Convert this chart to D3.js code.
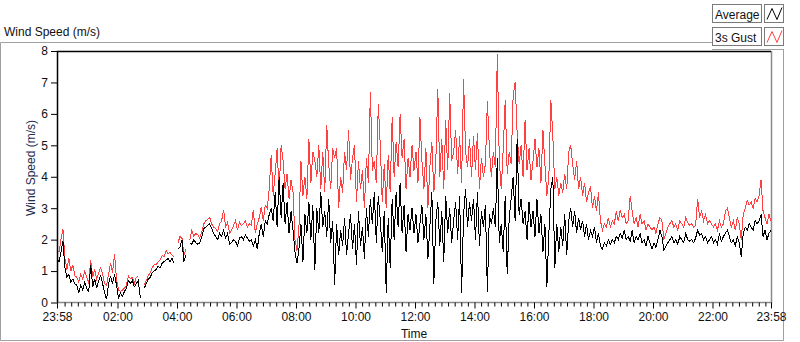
<!DOCTYPE html>
<html>
<head>
<meta charset="utf-8">
<script src="https://cdn.jsdelivr.net/npm/d3@7"></script>
<style>
  body { margin: 0; background: #fff; }
  svg text { font-family: "Liberation Sans", Arial, sans-serif; font-size: 12px; fill: #111; }
</style>
</head>
<body>
<svg id="chart" width="800" height="342"></svg>
<script>
// wind speed samples, one every 4 minutes from 23:58 (null = logger gap)
const STEP_MIN = 4;
const yTicks = [0, 1, 2, 3, 4, 5, 6, 7, 8];
const xLabelHours = [2, 4, 6, 8, 10, 12, 14, 16, 18, 20, 22];
const seriesNames = ['Average', '3s Gust'];

const avg = [
  1.4,1.3,1.6,1.95,1.1,0.8,0.9,0.65,0.75,0.6,
  0.55,0.3,0.55,0.4,0.65,0.45,0.35,1.2,0.5,0.75,
  0.45,0.7,0.85,0.6,0.3,0.1,0.6,0.85,0.6,0.9,
  0.55,0.15,0.3,0.2,0.35,0.45,0.7,0.6,0.7,0.5,
  0.6,0.7,0.15,null,0.45,0.6,0.75,0.8,0.95,1.0,
  1.05,1.15,1.1,1.25,1.3,1.35,1.4,1.3,1.4,1.25,
  null,1.7,1.75,2.0,1.3,1.5,null,1.9,1.85,2.0,
  1.9,1.85,1.9,2.1,2.35,2.4,2.45,2.5,2.35,2.2,
  2.1,2.0,2.2,2.1,2.3,2.05,2.2,1.85,1.9,2.0,
  1.95,1.8,2.05,2.1,2.0,2.15,2.05,1.95,2.0,1.8,
  2.0,1.7,2.2,2.5,2.1,2.6,2.5,2.8,3.0,2.6,
  3.5,2.4,4.0,2.7,3.8,2.5,3.2,2.2,2.9,2.3,
  1.6,1.25,1.7,2.5,1.3,2.8,2.2,3.2,2.0,3.1,
  1.05,3.0,2.2,3.5,2.4,2.9,2.1,3.3,1.9,2.6,
  0.55,2.5,1.5,2.3,1.8,2.7,1.5,2.2,2.8,1.7,
  2.5,1.2,2.9,1.8,2.4,1.4,3.0,2.1,3.3,2.5,
  3.5,1.9,3.4,2.6,1.6,2.9,0.3,2.7,1.1,3.3,
  2.0,3.5,2.4,3.8,2.2,3.1,1.6,2.8,2.3,3.0,
  2.2,2.8,1.9,2.5,3.1,2.0,2.8,1.4,2.4,3.5,
  0.6,2.6,3.2,1.8,2.9,1.3,3.4,2.2,3.0,1.9,
  2.6,3.2,2.0,3.4,0.3,2.8,3.6,2.4,3.2,2.6,
  3.3,2.0,3.5,1.8,2.9,2.4,3.1,0.35,2.8,2.5,
  3.0,2.4,4.6,1.9,2.5,1.6,3.4,0.9,2.7,3.3,
  4.0,2.6,5.2,2.8,3.3,2.5,2.9,2.0,3.2,2.4,
  2.9,2.1,3.3,2.2,2.8,1.6,2.5,0.5,2.2,3.6,
  4.0,1.1,2.5,1.6,2.4,1.8,2.8,1.5,2.6,3.0,
  2.4,2.9,2.2,2.7,2.3,2.6,2.1,2.5,2.0,2.3,
  2.1,2.4,1.9,2.2,1.8,1.7,1.9,1.8,2.0,1.85,
  2.0,1.9,2.1,2.0,2.2,2.05,2.3,2.0,2.1,1.95,
  2.3,1.9,2.1,2.0,2.2,1.9,2.0,1.8,2.1,1.9,
  1.7,1.9,1.75,2.0,2.3,2.1,1.65,1.8,1.9,2.0,
  2.1,1.9,2.0,1.85,2.1,2.0,1.9,2.2,2.0,1.95,
  2.0,1.9,2.05,2.3,2.15,2.2,2.0,2.1,1.9,2.0,
  2.1,1.9,2.0,1.85,2.2,1.95,2.1,2.2,2.3,2.1,
  1.9,2.0,1.8,2.1,1.9,1.45,2.2,2.4,2.3,2.5,
  2.4,2.3,2.6,2.5,2.6,2.8,2.1,2.3,2.0,2.2,2.3
];

const gust = [
  1.7,1.6,2.0,2.35,1.4,1.05,1.4,1.0,1.2,0.85,
  0.8,0.65,0.9,0.75,1.0,0.8,0.6,1.35,0.8,1.05,
  0.75,0.95,1.1,0.9,0.6,0.55,0.9,1.25,0.95,1.55,
  0.75,0.4,0.35,0.4,0.45,0.55,0.85,0.75,0.8,0.6,
  0.8,0.85,null,null,0.55,0.7,0.85,0.95,1.1,1.2,
  1.2,1.3,1.35,1.5,1.45,1.65,1.55,1.6,1.5,1.45,
  null,1.9,2.1,2.05,1.5,1.7,null,2.0,2.3,2.1,
  2.2,2.15,2.05,2.25,2.5,2.6,2.65,2.7,2.5,2.4,
  2.35,2.25,2.5,2.6,2.95,2.4,2.55,2.2,2.3,2.45,
  2.6,2.3,2.55,2.45,2.5,2.6,2.4,2.5,2.45,2.95,
  2.2,2.5,2.7,3.05,2.6,3.1,3.0,3.6,4.7,3.4,
  4.1,4.9,3.5,5.0,4.5,3.6,4.1,3.3,3.9,3.5,
  2.0,1.65,2.4,4.5,3.4,4.0,3.3,5.2,3.8,4.8,
  4.5,4.0,5.0,3.6,4.8,3.5,5.65,4.4,3.6,4.9,
  4.6,4.9,3.0,4.0,3.5,4.8,4.2,5.5,3.9,4.6,
  5.0,3.2,4.5,3.6,4.2,3.0,4.6,3.8,6.7,4.2,
  4.5,3.8,6.3,5.0,3.2,4.4,3.0,4.7,3.5,5.9,
  4.0,5.1,4.3,6.0,4.6,5.2,3.6,4.6,4.0,5.0,
  4.2,4.8,3.8,5.9,4.5,3.6,4.9,3.0,4.3,5.1,
  3.5,4.5,6.8,4.0,5.2,3.6,5.8,4.2,6.65,4.5,
  4.8,5.5,4.1,5.3,3.8,7.1,4.8,4.3,5.2,4.0,
  5.3,4.2,5.4,3.6,4.6,4.0,4.4,6.4,4.9,4.0,
  4.8,4.3,7.9,4.5,3.6,4.9,6.45,4.1,4.8,4.4,
  6.6,7.0,5.4,4.4,5.0,4.0,5.8,4.2,4.9,3.9,
  4.5,5.2,4.3,4.9,3.8,5.5,4.4,3.4,4.0,6.45,
  5.3,3.6,4.0,3.4,3.8,3.5,4.1,3.6,4.8,5.0,
  4.4,3.9,4.5,3.6,4.0,3.4,3.8,3.2,3.5,3.7,
  3.0,3.4,2.9,3.5,2.6,2.3,2.5,2.4,2.7,2.4,
  2.6,2.5,2.9,2.6,2.95,2.7,2.8,2.5,2.6,3.4,
  2.9,2.5,2.7,2.4,2.8,2.5,2.6,2.3,2.5,2.4,
  2.3,2.4,2.2,2.5,2.7,2.6,2.0,2.2,2.4,2.5,
  2.6,2.4,2.5,2.3,2.6,2.5,2.4,2.7,2.55,2.45,
  2.5,2.4,2.45,3.3,2.7,2.9,2.6,2.8,2.5,2.6,
  2.5,2.4,2.5,2.3,2.6,2.4,2.5,2.9,3.0,2.7,
  2.4,2.6,2.3,2.7,2.5,2.0,2.8,3.0,3.25,3.1,
  3.2,3.0,3.3,3.2,3.4,3.9,2.9,2.7,2.5,2.8,2.6
];

const COLOR = { avg: '#000000', gust: '#ff4040', frame: '#a0a0a0' };
const PLOT = { left: 57, right: 771, top: 51, bottom: 302.5 };

const t0 = new Date(2020, 0, 1, 23, 58);
const t1 = d3.timeMinute.offset(t0, 24 * 60);
const timeAt = i => d3.timeMinute.offset(t0, i * STEP_MIN);

const x = d3.scaleTime().domain([t0, t1]).range([PLOT.left, PLOT.right]);
const y = d3.scaleLinear().domain([0, 8]).range([PLOT.bottom, PLOT.top]);

const svg = d3.select('#chart');

// outer panel frame
svg.append('path')
  .attr('d', 'M0.5,340.5 V42.5 H712 M783.5,49 V340.5 H0.5 M712,49.5 H783.5')
  .attr('fill', 'none')
  .attr('stroke', COLOR.frame);

svg.append('text').attr('x', 4).attr('y', 36).text('Wind Speed (m/s)');

// legend
const legend = svg.append('g');
seriesNames.forEach((name, k) => {
  const ly = 4.5 + k * 23;
  legend.append('rect').attr('x', 712.5).attr('y', ly).attr('width', 49).attr('height', 18)
    .attr('fill', '#fff').attr('stroke', '#7a7a7a');
  legend.append('text').attr('x', 715).attr('y', ly + 14).text(name);
  legend.append('rect').attr('x', 764.5).attr('y', ly).attr('width', 19).attr('height', 18)
    .attr('fill', '#fff').attr('stroke', '#7a7a7a');
  legend.append('polyline')
    .attr('points', [[767, ly + 15], [772, ly + 4], [777, ly + 15], [782, ly + 3]].join(' '))
    .attr('fill', 'none')
    .attr('stroke', k === 0 ? COLOR.avg : COLOR.gust);
});

// plot box: dark top/left, light bottom/right
svg.append('rect')
  .attr('x', PLOT.left).attr('y', PLOT.top)
  .attr('width', PLOT.right - PLOT.left).attr('height', PLOT.bottom - PLOT.top)
  .attr('fill', '#fff');
svg.append('path')
  .attr('d', `M${PLOT.left},${PLOT.bottom} H${PLOT.right + 0.5} V${PLOT.top}`)
  .attr('fill', 'none').attr('stroke', '#8a8a8a').attr('stroke-width', 1.5);

// data lines
const line = d3.line()
  .defined(d => d.v != null)
  .x(d => x(d.t))
  .y(d => y(d.v));

const plot = svg.append('g');
[[gust, COLOR.gust], [avg, COLOR.avg]].forEach(([vals, col]) => {
  plot.append('path')
    .datum(vals.map((v, i) => ({ t: timeAt(i), v })))
    .attr('d', line)
    .attr('fill', 'none')
    .attr('stroke', col)
    .attr('stroke-width', 1)
    .style('shape-rendering', 'crispEdges');
});

svg.append('path')
  .attr('d', `M${PLOT.right},${PLOT.top + 0.5} H${PLOT.left + 0.5} V${PLOT.bottom}`)
  .attr('fill', 'none').attr('stroke', '#000').attr('stroke-width', 1.5);

// y axis
const yAxis = d3.axisLeft(y).tickValues(yTicks).tickSize(6).tickPadding(3).tickFormat(d3.format('d'));
const gy = svg.append('g').attr('transform', `translate(${PLOT.left},0)`).call(yAxis);
gy.select('.domain').remove();
gy.selectAll('text').attr('font-size', 12).attr('font-family', null).attr('fill', '#111');

svg.append('text')
  .attr('transform', `translate(35,168) rotate(-90)`)
  .attr('text-anchor', 'middle')
  .style('fill', '#1f2d50')
  .text('Wind Speed (m/s)');

// x axis: major every 2 h plus both ends, minor every 2h/9
const midnight = new Date(2020, 0, 2, 0, 0);
const majors = [t0].concat(xLabelHours.map(h => d3.timeHour.offset(midnight, h)), [t1]);
const minors = d3.range(0, 24 * 9).map(k => d3.timeSecond.offset(midnight, k * 800))
  .filter((d, k) => k % 9 !== 0 && d < t1);

const gx = svg.append('g').attr('transform', `translate(0,${PLOT.bottom})`);
gx.call(d3.axisBottom(x).tickValues(minors).tickSize(4).tickFormat(''));
gx.call(g => g.select('.domain').remove());
const gxMajor = svg.append('g').attr('transform', `translate(0,${PLOT.bottom})`)
  .call(d3.axisBottom(x).tickValues(majors).tickSize(6).tickPadding(4).tickFormat(d3.timeFormat('%H:%M')));
gxMajor.select('.domain').remove();
gxMajor.selectAll('text').attr('font-size', 12).attr('font-family', null).attr('fill', '#111');

svg.append('text').attr('x', 414).attr('y', 338).attr('text-anchor', 'middle').text('Time');
</script>
</body>
</html>
